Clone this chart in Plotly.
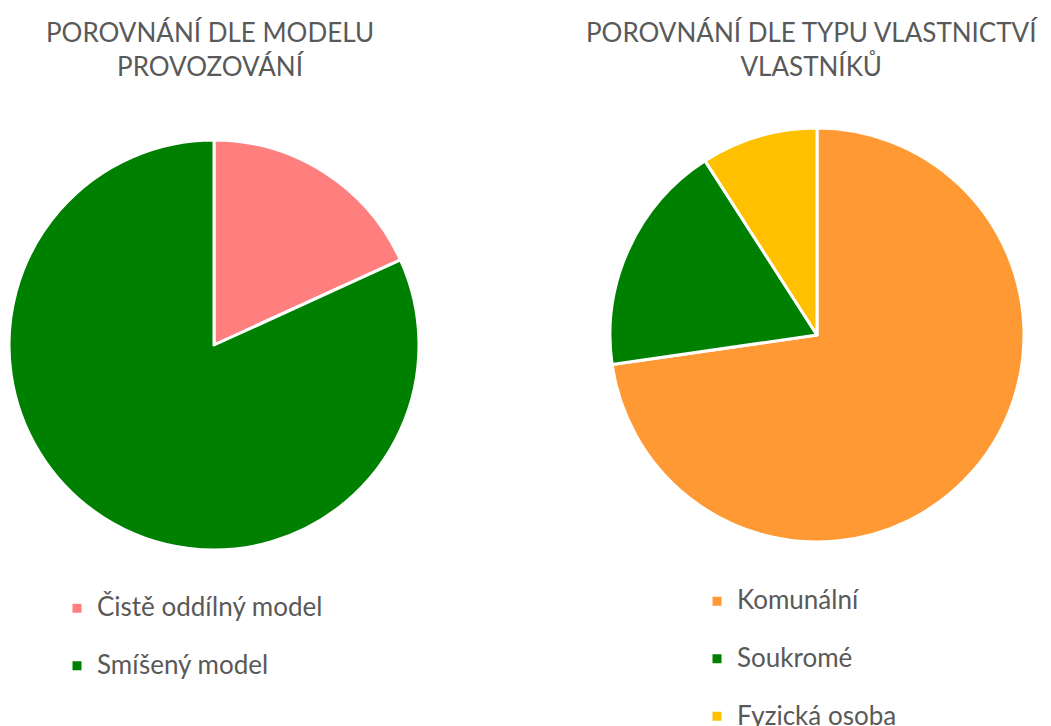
import plotly.graph_objects as go

# Left chart: operating model
model_labels = ["Čistě oddílný model", "Smíšený model"]
model_values = [2, 9]
model_colors = ["#FF7F7F", "#008000"]

# Right chart: ownership type
owner_labels = ["Komunální", "Soukromé", "Fyzická osoba"]
owner_values = [8, 2, 1]
owner_colors = ["#FF9933", "#008000", "#FFC000"]

title_left = "POROVNÁNÍ DLE MODELU<br>PROVOZOVÁNÍ"
title_right = "POROVNÁNÍ DLE TYPU VLASTNICTVÍ<br>VLASTNÍKŮ"

FONT = "Lato"
GREY = "#595959"
W, H = 1051, 726
OFF = 8  # page body margin


def px_x(x):
    return (x - OFF) / W


def px_y(y):
    return 1 - (y - OFF) / H


def spaced(labels):
    # larger text on first line, blank second line for the tall legend rows
    return ["<span style='font-size:26px'>" + l + "</span><br> " for l in labels]


fig = go.Figure()
fig.add_trace(go.Pie(
    labels=spaced(model_labels), values=model_values,
    marker=dict(colors=model_colors, line=dict(color="white", width=3)),
    sort=False, direction="clockwise", rotation=0,
    textinfo="none", hoverinfo="value+percent",
    domain=dict(x=[px_x(214 - 205), px_x(214 + 205)],
                y=[px_y(345 + 205), px_y(345 - 205)]),
    legend="legend",
))
fig.add_trace(go.Pie(
    labels=spaced(owner_labels), values=owner_values,
    marker=dict(colors=owner_colors, line=dict(color="white", width=3)),
    sort=False, direction="clockwise", rotation=0,
    textinfo="none", hoverinfo="value+percent",
    domain=dict(x=[px_x(817 - 207), px_x(817 + 207)],
                y=[px_y(335 + 207), px_y(335 - 207)]),
    legend="legend2",
))

legend_common = dict(
    font=dict(family=FONT, size=21, color=GREY),
    bgcolor="rgba(0,0,0,0)", valign="top",
    xanchor="left", yanchor="top", orientation="v",
)
title_font = dict(family=FONT, size=26, color=GREY)
fig.update_layout(
    width=W, height=H,
    margin=dict(l=0, r=0, t=0, b=0, autoexpand=False),
    paper_bgcolor="white", plot_bgcolor="white",
    showlegend=True,
    legend=dict(x=px_x(57), y=px_y(588), **legend_common),
    legend2=dict(x=px_x(697), y=px_y(581), **legend_common),
    annotations=[
        dict(text=title_left, x=px_x(210), y=px_y(49), xref="paper", yref="paper",
             xanchor="center", yanchor="middle", showarrow=False, align="center",
             font=title_font),
        dict(text=title_right, x=px_x(812), y=px_y(49), xref="paper", yref="paper",
             xanchor="center", yanchor="middle", showarrow=False, align="center",
             font=title_font),
    ],
)

fig.write_html("out.html")
